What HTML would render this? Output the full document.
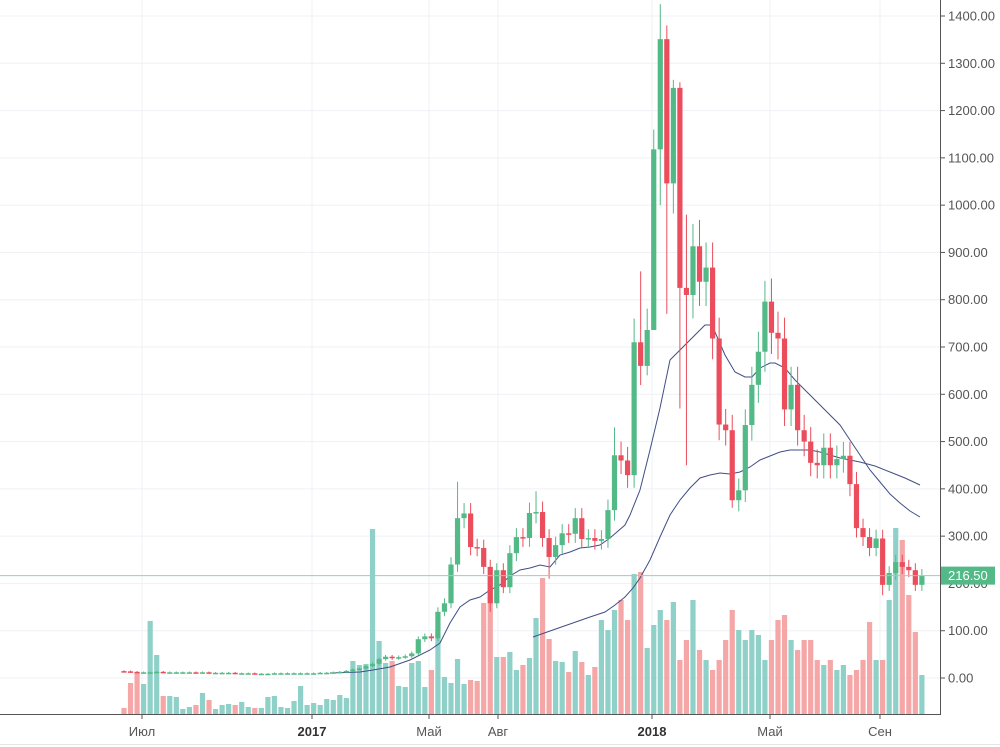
<!DOCTYPE html>
<html><head><meta charset="utf-8"><style>
html,body{margin:0;padding:0;background:#fff;width:1000px;height:747px;overflow:hidden}
svg{display:block}
text{font-family:"Liberation Sans",sans-serif}
</style></head><body>
<svg id="s" width="1000" height="747" xmlns="http://www.w3.org/2000/svg"></svg>
<script>
const S=document.getElementById('s');let h='';
const Y=p=>678-p*0.47286, X=i=>124+i*6.54;
for(let k=-1;k<=14;k++){const y=Y(k*100);if(y>2&&y<712)h+=`<line x1="0" x2="940" y1="${y}" y2="${y}" stroke="#eef1f5"/>`;}
[[142,'Июл',0],[312,'2017',1],[429,'Май',0],[498,'Авг',0],[652,'2018',1],[770,'Май',0],[880,'Сен',0]].forEach(v=>{
h+=`<line x1="${v[0]}" x2="${v[0]}" y1="0" y2="714" stroke="#eef1f5"/><line x1="${v[0]}" x2="${v[0]}" y1="714" y2="719" stroke="#555"/>`;
h+=`<text x="${v[0]}" y="736" font-size="13" text-anchor="middle" fill="${v[2]?'#333':'#555'}" font-weight="${v[2]?'bold':'normal'}">${v[1]}</text>`;});
const C=[14,13,12,12,12,13,12,12,12,12,12,11,12,11,11,11,11,10,10,10,9,9,9,10,10,10,10,10,10,10,11,11,12,13,
15,18,20,25,30,40,45,42,44,46,52,82,88,84,140,158,240,338,348,277,275,235,158,228,192,264,298,296,349,351,296,256,281,306,305,338,294,296,290,294,355,471,460,429,710,660,736,1118,1351,1046,1248,825,810,913,838,868,
718,536,524,376,397,535,620,690,796,730,718,568,620,524,500,455,450,487,450,463,470,410,317,298,275,295,197,222,245,235,228,197,216.5];
const V=[708,683,672,684,621,655,696,696,697,709,707,705,693,700,709,705,704,705,702,707,708,708,697,696,707,708,701,686,705,703,705,699,700,695,
698,661,665,664,529,641,663,661,686,687,663,661,687,670,632,677,683,659,684,680,681,603,575,657,657,652,670,665,658,618,578,639,661,662,672,651,662,675,667,620,630,610,600,620,574,572,648,625,610,620,602,660,640,600,650,660,
670,660,640,610,630,640,630,635,660,640,620,615,640,650,640,640,660,665,660,670,665,675,670,660,622,660,660,600,528,540,595,632,675];
const HI={78:760,79:860,81:1160,82:1425,83:1380,84:1265,85:1260,86:980,87:960,98:840,63:395,51:415,75:530,76:500};
const LO={81:960,82:1000,83:770,85:570,86:450,80:640,56:140,65:210,93:360,116:175};
let vol='',cand='';
for(let i=0;i<C.length;i++){
 const o=i?C[i-1]:14.5,c=C[i],up=c>=o,x=X(i);
 const hi=HI[i]||Math.max(o,c)*1.06+1,lo=LO[i]||Math.min(o,c)*0.94-1;
 const col=up?'#53b987':'#eb4d5c';
 vol+=`<rect x="${x-2.6}" y="${V[i]}" width="5.2" height="${714-V[i]}" fill="${up?'#8fd1c8':'#f5a6a6'}"/>`;
 cand+=`<line x1="${x}" x2="${x}" y1="${Y(hi)}" y2="${Y(lo)}" stroke="${col}" stroke-width="1"/>`;
 const t=Y(Math.max(o,c)),b=Y(Math.min(o,c));
 cand+=`<rect x="${x-2.6}" y="${t}" width="5.2" height="${Math.max(1.5,b-t)}" fill="${col}"/>`;
}
h+=vol;
const fast="330,673 360,672 373,670 390,667 410,660 430,650 440,643 450,623 460,607 470,600 480,597 490,590 500,585 510,576 520,570 530,568 540,565 550,567 560,555 570,552 580,548 590,547 600,545 610,538 625,525 630,515 640,490 650,450 660,408 670,360 680,350 690,340 700,330 705,325 710,325 715,332 725,355 735,372 745,377 752,377 760,368 770,363 775,363 785,368 795,380 810,395 825,410 840,425 850,440 860,455 870,470 880,482 890,494 900,503 910,511 920,517";
const slow="533,637 550,631 570,624 590,617 605,612 615,605 625,597 633,588 640,578 650,560 660,537 670,515 680,500 690,488 700,478 710,475 720,473 730,474 740,472 750,467 760,460 770,456 780,452 790,450 800,450 810,450 820,452 830,455 840,458 850,460 860,462 875,466 890,472 905,478 920,485";
h+=`<polyline points="${fast}" fill="none" stroke="#3f4f85" stroke-width="1"/>`;
h+=`<polyline points="${slow}" fill="none" stroke="#3f4f85" stroke-width="1"/>`;
h+=cand;
h+=`<line x1="0" x2="940" y1="${Y(216.5)}" y2="${Y(216.5)}" stroke="#8fd1c8" stroke-width="1"/>`;
h+=`<line x1="0" x2="940" y1="714.5" y2="714.5" stroke="#555"/><line x1="940.5" x2="940.5" y1="0" y2="715" stroke="#555"/>`;
h+=`<line x1="0" x2="1000" y1="744.5" y2="744.5" stroke="#e6e6e6"/>`;
for(let k=0;k<=14;k++){const y=Y(k*100);h+=`<line x1="940" x2="945" y1="${y}" y2="${y}" stroke="#555"/><text x="948" y="${y+4.5}" font-size="13" fill="#555">${(k*100).toFixed(2)}</text>`;}
const ly=Y(216.5);
h+=`<rect x="941" y="${ly-9}" width="54" height="18" fill="#53b987"/><text x="948" y="${ly+4.5}" font-size="13" fill="#fff">216.50</text>`;
S.innerHTML=h;
</script>
</body></html>
